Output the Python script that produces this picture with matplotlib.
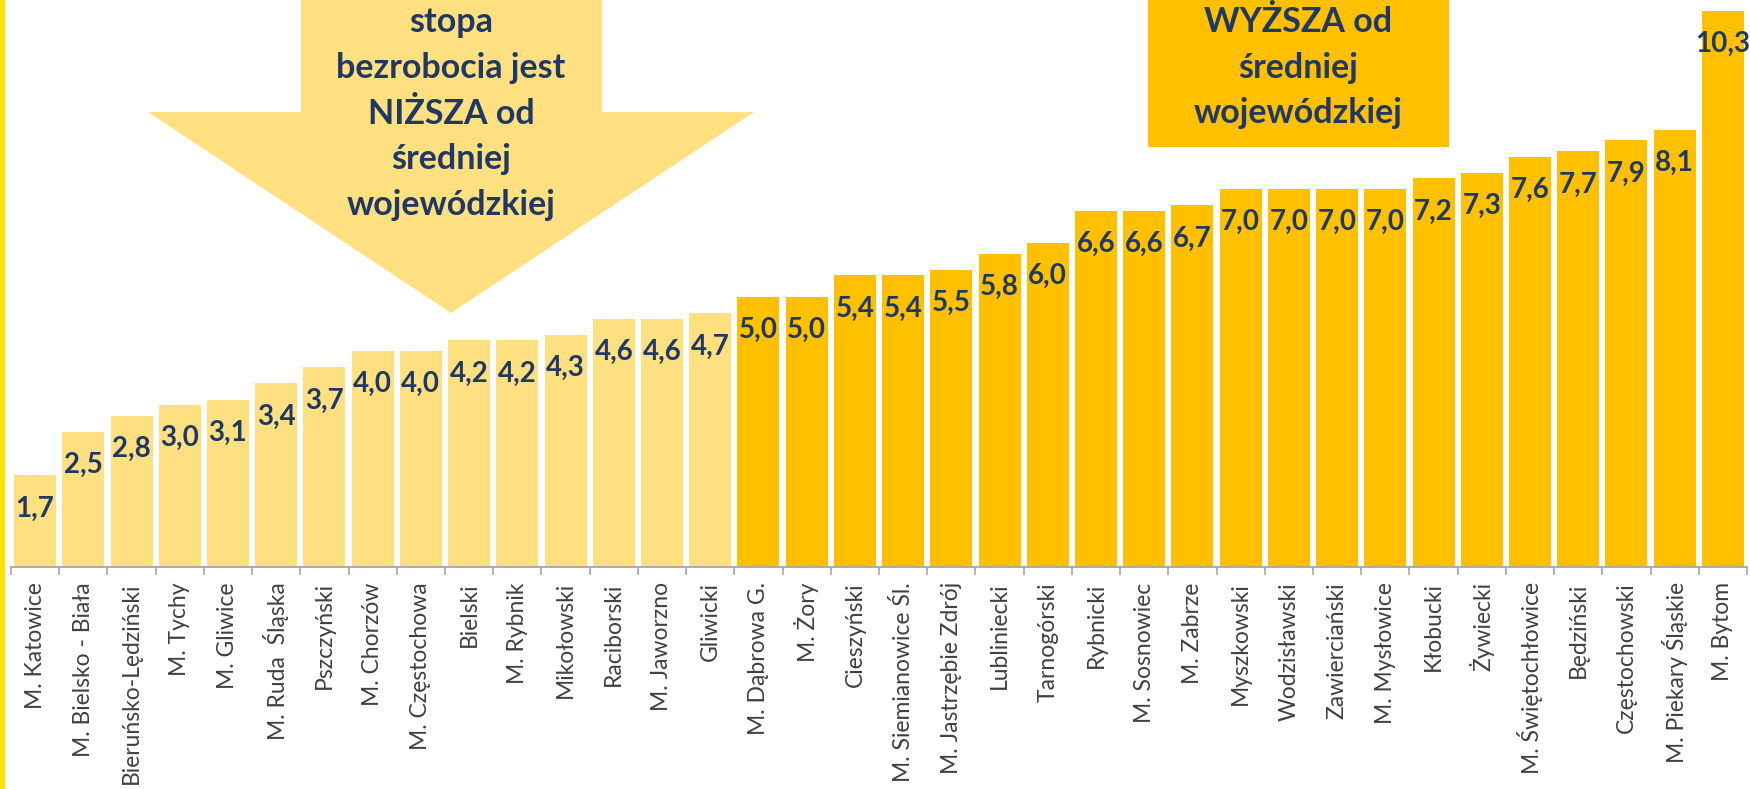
import matplotlib
matplotlib.use("Agg")
import matplotlib.pyplot as plt
from matplotlib.patches import Polygon, Rectangle

categories = [
    "M. Katowice", "M. Bielsko - Biała", "Bieruńsko-Lędziński", "M. Tychy", "M. Gliwice",
    "M. Ruda  Śląska", "Pszczyński", "M. Chorzów", "M. Częstochowa", "Bielski",
    "M. Rybnik", "Mikołowski", "Raciborski", "M. Jaworzno", "Gliwicki",
    "M. Dąbrowa G.", "M. Żory", "Cieszyński", "M. Siemianowice Śl.", "M. Jastrzębie Zdrój",
    "Lubliniecki", "Tarnogórski", "Rybnicki", "M. Sosnowiec", "M. Zabrze",
    "Myszkowski", "Wodzisławski", "Zawierciański", "M. Mysłowice", "Kłobucki",
    "Żywiecki", "M. Świętochłowice", "Będziński", "Częstochowski", "M. Piekary Śląskie",
    "M. Bytom",
]
values = [
    1.7, 2.5, 2.8, 3.0, 3.1, 3.4, 3.7, 4.0, 4.0, 4.2, 4.2, 4.3, 4.6, 4.6, 4.7,
    5.0, 5.0, 5.4, 5.4, 5.5, 5.8, 6.0, 6.6, 6.6, 6.7, 7.0, 7.0, 7.0, 7.0, 7.2,
    7.3, 7.6, 7.7, 7.9, 8.1, 10.3,
]
n_below = 15  # number of units below the voivodeship average

arrow_text = ["stopa", "bezrobocia jest", "NIŻSZA od", "średniej", "wojewódzkiej"]
box_text = ["WYŻSZA od", "średniej", "wojewódzkiej"]

LIGHT = "#FFE080"
GOLD = "#FFC000"
NAVY = "#1F3864"
GRAY_TXT = "#404040"
AXIS = "#A6A6A6"

W, H = 1750, 789
fig = plt.figure(figsize=(W / 100, H / 100), dpi=100)
fig.patch.set_facecolor("white")

def fx(px):
    return px / W

def fy(py):
    return 1 - py / H

# decorations in figure pixel space
fig.patches.append(Rectangle((0, 0), fx(4.5), 1, transform=fig.transFigure,
                             facecolor="#FCE300", edgecolor="none", zorder=0))
arrow_pts = [(301, -5), (602, -5), (602, 112), (754, 112), (451, 313), (148, 112), (301, 112)]
fig.patches.append(Polygon([(fx(x), fy(y)) for x, y in arrow_pts], closed=True,
                           transform=fig.transFigure, facecolor=LIGHT, edgecolor="none", zorder=0))
fig.patches.append(Rectangle((fx(1148), fy(147)), fx(1449) - fx(1148), fy(-5) - fy(147),
                             transform=fig.transFigure, facecolor=GOLD, edgecolor="none", zorder=0))

for i, line in enumerate(arrow_text):
    fig.text(fx(451), fy(22 + i * 45.8), line, ha="center", va="center",
             fontsize=24.5, fontweight="bold", family=["Lato", "DejaVu Sans"], color=NAVY)
for i, line in enumerate(box_text):
    fig.text(fx(1298), fy(22 + i * 45.5), line, ha="center", va="center",
             fontsize=24.5, fontweight="bold", family=["Lato", "DejaVu Sans"], color=NAVY)

# axes
left_px, right_px, base_px = 11, 1747, 567
ax = fig.add_axes([fx(left_px), fy(base_px), fx(right_px) - fx(left_px), base_px / H])
ax.set_facecolor("none")
x = list(range(len(categories)))
colors = [LIGHT if i < n_below else GOLD for i in x]
bars = ax.bar(x, values, width=0.87, color=colors, edgecolor="none", zorder=2)
ax.set_xlim(-0.5, len(categories) - 0.5)
ax.set_ylim(0, base_px / 54.0)

for xi, v in zip(x, values):
    ax.annotate(f"{v:.1f}".replace(".", ","), (xi, v), xytext=(0, -24),
                textcoords="offset points", ha="center", va="center",
                fontsize=20, fontweight="bold", family=["Lato", "DejaVu Sans"],
                color=NAVY, zorder=3, annotation_clip=False)

for s in ["top", "right", "left"]:
    ax.spines[s].set_visible(False)
ax.spines["bottom"].set_color(AXIS)
ax.spines["bottom"].set_linewidth(1.3)
ax.set_yticks([])
ax.set_xticks(x)
ax.set_xticklabels(categories, rotation=90, fontsize=16.5, family=["Lato", "DejaVu Sans"],
                   color=GRAY_TXT, va="top", ha="center")
ax.tick_params(axis="x", which="major", length=0, pad=11)
ax.set_xticks([i - 0.5 for i in range(len(categories) + 1)], minor=True)
ax.tick_params(axis="x", which="minor", length=6, width=1.2, color=AXIS)

fig.savefig("out.png", dpi=100, facecolor="white")
